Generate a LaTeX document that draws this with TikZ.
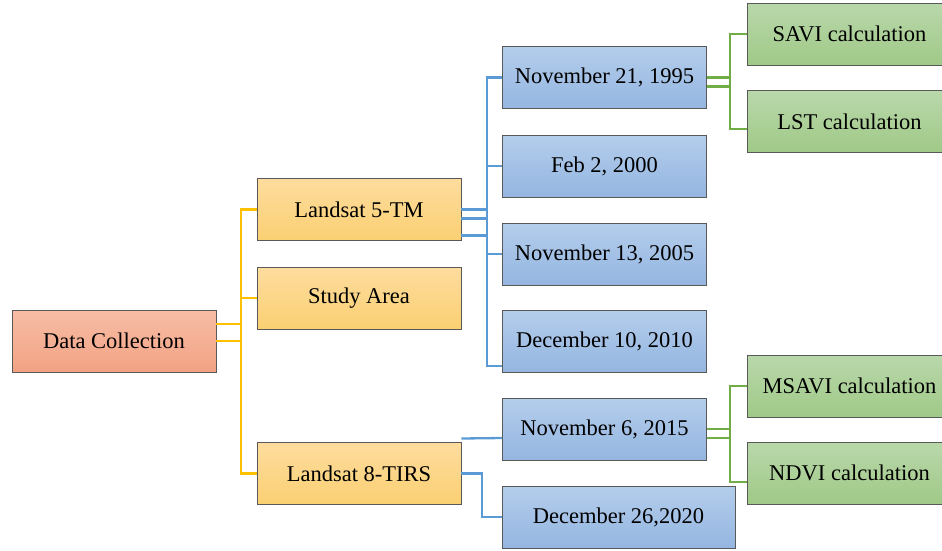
\documentclass[tikz,border=0pt]{standalone}
\usepackage{fontspec}
\setmainfont{Liberation Serif}
\usepackage{tikz}
\usetikzlibrary{positioning}

\definecolor{dcTop}{HTML}{F6BDA6}
\definecolor{dcBot}{HTML}{F3A283}
\definecolor{lsTop}{HTML}{FDDC9E}
\definecolor{lsBot}{HTML}{FBD072}
\definecolor{dtTop}{HTML}{B4CDEB}
\definecolor{dtBot}{HTML}{94B6E1}
\definecolor{clTop}{HTML}{B9D8AB}
\definecolor{clBot}{HTML}{A0C987}
\definecolor{yLine}{HTML}{FFC000}
\definecolor{bLine}{HTML}{5B9BD5}
\definecolor{gLine}{HTML}{70AD47}

\tikzset{
  box/.style={draw=gray!70!black, line width=0.8pt, minimum width=204pt, minimum height=62pt,
    inner sep=0pt, font=\fontsize{22.5}{27}\selectfont},
  dcbox/.style={box, top color=dcTop, bottom color=dcBot},
  lsbox/.style={box, top color=lsTop, bottom color=lsBot},
  dtbox/.style={box, top color=dtTop, bottom color=dtBot},
  clbox/.style={box, top color=clTop, bottom color=clBot},
  link/.style={line width=2.3pt}
}

\begin{document}
\begin{tikzpicture}[x=1pt, y=-1pt]
  \useasboundingbox (0,0) rectangle (942,550);

  \node[dcbox] at (114, 341) (dc) {Data Collection};

  \node[lsbox] at (359, 209.5) (l5) {Landsat 5-TM};
  \node[lsbox] at (359, 298) (sa) {Study Area};
  \node[lsbox] at (359, 473.5) (l8) {Landsat 8-TIRS};

  \node[dtbox] at (604.5, 77.5) (d95) {November 21, 1995};
  \node[dtbox] at (604.5, 166) (d00) {Feb 2, 2000};
  \node[dtbox] at (604.5, 254) (d05) {November 13, 2005};
  \node[dtbox] at (604.5, 341) (d10) {December 10, 2010};
  \node[dtbox] at (604.5, 429) (d15) {November 6, 2015};
  \node[dtbox, minimum width=233pt] at (618.5, 517) (d20) {December 26,2020};

  \node[clbox] at (849.5, 34) (savi) {SAVI calculation};
  \node[clbox] at (849.5, 121.5) (lst) {LST calculation};
  \node[clbox] at (849.5, 386) (msavi) {MSAVI calculation};
  \node[clbox] at (849.5, 473) (ndvi) {NDVI calculation};

  % yellow tree
  \coordinate (yk) at (241, 341);
  \draw[link, yLine] (dc.east) -- (yk);
  \draw[link, yLine] ([yshift=17pt]dc.east) -- ([yshift=17pt]dc.east -| yk);
  \draw[link, yLine] (l5.west) -| (yk) |- (l8.west);
  \draw[link, yLine] (sa.west) -- (sa.west -| yk);

  % blue tree, Landsat 5
  \coordinate (bk) at (487, 209.5);
  \draw[link, bLine] (l5.east) -- (bk);
  \draw[link, bLine] ([yshift=-9pt]l5.east) -- ([yshift=-9pt]l5.east -| bk);
  \draw[link, bLine] ([yshift=-26pt]l5.east) -- ([yshift=-26pt]l5.east -| bk);
  \draw[link, bLine] (d95.west) -| (bk) |- ([yshift=-25pt]d10.west);
  \draw[link, bLine] (d00.west) -- (d00.west -| bk);
  \draw[link, bLine] (d05.west) -- (d05.west -| bk);

  % blue tree, Landsat 8
  \draw[link, bLine] ([yshift=35pt]l8.east) -- ([yshift=-9pt]d15.west);
  \draw[link, bLine] (l8.east) -- (482, 473.5) |- (d20.west);

  % green trees
  \coordinate (gk1) at (730, 77.5);
  \draw[link, gLine] (d95.east) -- (gk1);
  \draw[link, gLine] ([yshift=-9pt]d95.east) -- ([yshift=-9pt]d95.east -| gk1);
  \draw[link, gLine] (savi.west) -| (gk1) |- ([yshift=-7.5pt]lst.west);

  \coordinate (gk2) at (730, 429);
  \draw[link, gLine] (d15.east) -- (gk2);
  \draw[link, gLine] ([yshift=-9pt]d15.east) -- ([yshift=-9pt]d15.east -| gk2);
  \draw[link, gLine] (msavi.west) -| (gk2) |- ([yshift=-9pt]ndvi.west);
\end{tikzpicture}
\end{document}
